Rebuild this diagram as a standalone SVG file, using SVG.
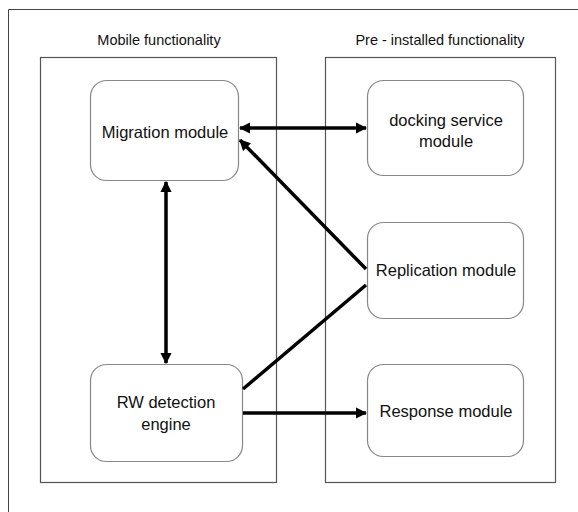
<svg xmlns="http://www.w3.org/2000/svg" width="578" height="512" viewBox="0 0 578 512">
<defs>
<marker id="ah" viewBox="0 0 10 10" refX="9" refY="5" markerWidth="3.2" markerHeight="3.2" orient="auto-start-reverse" markerUnits="strokeWidth">
<path d="M0,0 L10,5 L0,10 z" fill="#000"/>
</marker>
<style>
.frame{fill:none;stroke:#444;stroke-width:1}
.cont{fill:none;stroke:#555;stroke-width:1.2}
.box{fill:#fff;stroke:#888;stroke-width:1.2}
.t{font-family:"Liberation Sans",Arial,sans-serif;fill:#111;text-anchor:middle}
.lbl{font-size:16.5px}
.ttl{font-size:14.5px}
.c{stroke:#000;stroke-width:3.5;fill:none}
</style>
</defs>
<rect width="578" height="512" fill="#fff"/>
<path class="frame" d="M8.5,512 V9.5 H578"/>
<g id="mobile">
<rect class="cont" x="40.5" y="57.5" width="236" height="425"/>
<text class="t ttl" x="159" y="45">Mobile functionality</text>
</g>
<g id="preinstalled">
<rect class="cont" x="325.5" y="57.5" width="230" height="425"/>
<text class="t ttl" x="440" y="45">Pre - installed functionality</text>
</g>
<g id="migration">
<rect class="box" x="90.5" y="80.5" width="148" height="100" rx="16"/>
<text class="t lbl" x="165" y="138">Migration module</text>
</g>
<g id="rw">
<rect class="box" x="90.5" y="364.5" width="152" height="97" rx="16"/>
<text class="t lbl" x="166" y="408">RW detection</text>
<text class="t lbl" x="166" y="430">engine</text>
</g>
<g id="docking">
<rect class="box" x="367.5" y="80.5" width="156" height="95" rx="16"/>
<text class="t lbl" x="446" y="126">docking  service</text>
<text class="t lbl" x="446" y="147">module</text>
</g>
<g id="replication">
<rect class="box" x="367.5" y="222.5" width="156" height="96" rx="16"/>
<text class="t lbl" x="446" y="276">Replication module</text>
</g>
<g id="response">
<rect class="box" x="367.5" y="364.5" width="156" height="92" rx="16"/>
<text class="t lbl" x="446" y="417">Response module</text>
</g>
<g id="connectors">
<line class="c" x1="240" y1="128" x2="366" y2="128" marker-start="url(#ah)" marker-end="url(#ah)"/>
<line class="c" x1="166" y1="182" x2="166" y2="363" marker-start="url(#ah)" marker-end="url(#ah)"/>
<line class="c" x1="366" y1="269" x2="240" y2="140" marker-end="url(#ah)"/>
<line class="c" x1="243" y1="389" x2="366" y2="285"/>
<line class="c" x1="243" y1="413" x2="366" y2="413" marker-end="url(#ah)"/>
</g>
</svg>
